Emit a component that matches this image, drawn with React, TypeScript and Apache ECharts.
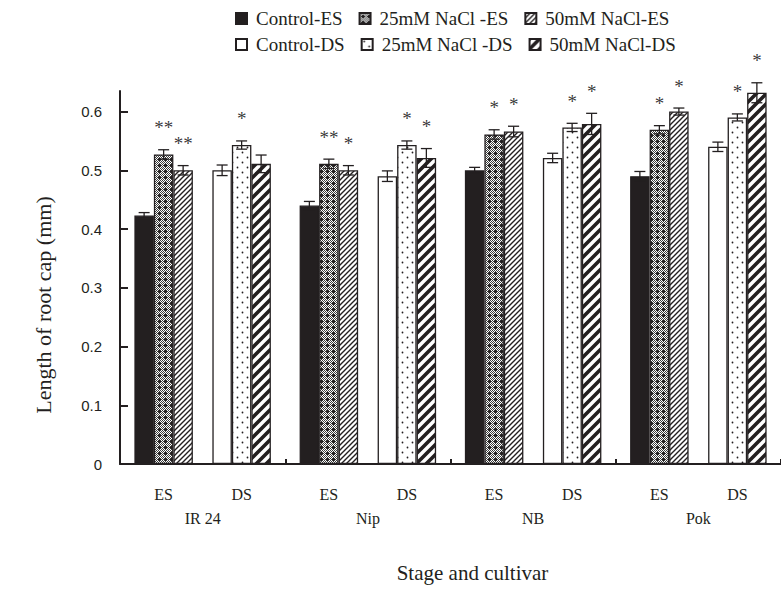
import React, { useEffect, useRef } from "react";
import * as echarts from "echarts";

const CULTIVARS = ["IR 24", "Nip", "NB", "Pok"];
const STAGE_LABELS = ["ES", "DS"];
const TREATMENTS = [
  "Control-ES",
  "25mM NaCl -ES",
  "50mM NaCl-ES",
  "Control-DS",
  "25mM NaCl -DS",
  "50mM NaCl-DS",
];
const Y_TICKS = [0, 0.1, 0.2, 0.3, 0.4, 0.5, 0.6];

// mean values (mm)
const controlES = [0.423, 0.44, 0.5, 0.49];
const nacl25ES = [0.527, 0.511, 0.561, 0.569];
const nacl50ES = [0.5, 0.5, 0.566, 0.6];
const controlDS = [0.5, 0.49, 0.521, 0.54];
const nacl25DS = [0.543, 0.543, 0.573, 0.59];
const nacl50DS = [0.511, 0.521, 0.579, 0.632];

// standard errors
const errControlES = [0.005, 0.007, 0.005, 0.008];
const err25ES = [0.008, 0.008, 0.008, 0.007];
const err50ES = [0.008, 0.008, 0.009, 0.006];
const errControlDS = [0.009, 0.009, 0.008, 0.008];
const err25DS = [0.007, 0.007, 0.007, 0.006];
const err50DS = [0.015, 0.016, 0.018, 0.017];

// significance marks
const sigControlES = ["", "", "", ""];
const sig25ES = ["**", "**", "*", "*"];
const sig50ES = ["**", "*", "*", "*"];
const sigControlDS = ["", "", "", ""];
const sig25DS = ["*", "*", "*", "*"];
const sig50DS = ["", "*", "*", "*"];

const INK = "#231f20";
const BAR_W = 19.5;
const SERIF = "Liberation Serif, serif";
const SANS = "Liberation Sans, sans-serif";

function tile(w: number, h: number, draw: (ctx: CanvasRenderingContext2D) => void) {
  const c = document.createElement("canvas");
  c.width = w;
  c.height = h;
  const ctx = c.getContext("2d") as CanvasRenderingContext2D;
  ctx.fillStyle = "#ffffff";
  ctx.fillRect(0, 0, w, h);
  draw(ctx);
  return { image: c, repeat: "repeat" };
}

function diag(w: number, lw: number) {
  return tile(w, w, (ctx) => {
    ctx.strokeStyle = INK;
    ctx.lineWidth = lw;
    ctx.lineCap = "square";
    for (const o of [-w, 0, w]) {
      ctx.beginPath();
      ctx.moveTo(o, w);
      ctx.lineTo(o + w, 0);
      ctx.stroke();
    }
  });
}

function dense() {
  return tile(6, 6, (ctx) => {
    ctx.fillStyle = "#3a3a3a";
    for (let x = 0; x < 6; x++)
      for (let y = 0; y < 6; y++) if ((x + y) % 2 === 0) ctx.fillRect(x, y, 1, 1);
    ctx.fillStyle = INK;
    ctx.fillRect(2, 3, 3, 1);
    ctx.fillRect(3, 2, 1, 3);
  });
}

function dots() {
  return tile(10, 10, (ctx) => {
    ctx.fillStyle = INK;
    ctx.beginPath();
    ctx.arc(2.5, 2.5, 0.9, 0, Math.PI * 2);
    ctx.fill();
    ctx.beginPath();
    ctx.arc(7.5, 7.5, 0.9, 0, Math.PI * 2);
    ctx.fill();
  });
}

export default function App() {
  const ref = useRef<HTMLDivElement>(null);

  useEffect(() => {
    if (!ref.current) return;
    const chart = echarts.init(ref.current, undefined, { renderer: "svg" });

    const defs = [
      { name: TREATMENTS[0], data: controlES, err: errControlES, sig: sigControlES, fill: INK, slot: 0 },
      { name: TREATMENTS[1], data: nacl25ES, err: err25ES, sig: sig25ES, fill: dense(), slot: 1 },
      { name: TREATMENTS[2], data: nacl50ES, err: err50ES, sig: sig50ES, fill: diag(5, 1.4), slot: 2 },
      { name: TREATMENTS[3], data: controlDS, err: errControlDS, sig: sigControlDS, fill: "#ffffff", slot: 4 },
      { name: TREATMENTS[4], data: nacl25DS, err: err25DS, sig: sig25DS, fill: dots(), slot: 5 },
      { name: TREATMENTS[5], data: nacl50DS, err: err50DS, sig: sig50DS, fill: diag(10, 3.6), slot: 6 },
    ];

    const barSeries: any[] = [];
    defs.forEach((d, i) => {
      if (i === 3) {
        barSeries.push({
          type: "bar",
          name: "_gap",
          data: CULTIVARS.map(() => null),
          barWidth: BAR_W,
          silent: true,
        });
      }
      barSeries.push({
        type: "bar",
        name: d.name,
        data: d.data,
        barWidth: BAR_W,
        barGap: "0%",
        itemStyle: { color: d.fill as any, borderColor: INK, borderWidth: 1.3 },
      });
    });

    // significance asterisks: label above the top of each error bar
    const sigSeries = defs
      .filter((d) => d.sig.some((s) => s))
      .map((d) => ({
        type: "scatter",
        name: "_sig_" + d.name,
        silent: true,
        clip: false,
        z: 12,
        symbol: "circle",
        symbolSize: 1,
        itemStyle: { color: "rgba(0,0,0,0)" },
        data: d.data.map((v, i) => [i, v + d.err[i]]),
        label: {
          show: true,
          position: "top",
          distance: 12,
          offset: [(d.slot - 3) * BAR_W, 0],
          color: "#000000",
          fontFamily: SERIF,
          fontSize: 19,
          formatter: (p: any) => d.sig[p.dataIndex] || "",
        },
      }));

    const errItems: any[] = [];
    defs.forEach((d) => {
      d.data.forEach((v, i) => {
        errItems.push({ cat: i, slot: d.slot, val: v, err: d.err[i] });
      });
    });

    const errSeries = {
      type: "custom",
      name: "_err",
      z: 10,
      clip: false,
      silent: true,
      encode: { x: 0, y: 1 },
      data: errItems.map((it) => [it.cat, it.val + it.err]),
      renderItem: (params: any, api: any) => {
        const it = errItems[params.dataIndex];
        const c = api.coord([it.cat, it.val]);
        const x = c[0] + (it.slot - 3) * BAR_W;
        const yTop = api.coord([it.cat, it.val + it.err])[1];
        const yBot = api.coord([it.cat, it.val - it.err])[1];
        const st = { stroke: INK, lineWidth: 1.3, fill: "none" };
        return {
          type: "group",
          children: [
            { type: "line", shape: { x1: x, y1: yTop, x2: x, y2: yBot }, style: st },
            { type: "line", shape: { x1: x - 5.5, y1: yTop, x2: x + 5.5, y2: yTop }, style: st },
            { type: "line", shape: { x1: x - 5.5, y1: yBot, x2: x + 5.5, y2: yBot }, style: st },
          ],
        };
      },
    };

    const legendBase = {
      icon: "rect",
      itemWidth: 11,
      itemHeight: 11,
      itemGap: 16,
      left: 230,
      textStyle: { fontFamily: SERIF, fontSize: 19, color: INK, padding: [0, 0, 0, 4] },
      selectedMode: false,
    };

    chart.setOption({
      animation: false,
      textStyle: { fontFamily: SERIF, color: INK },
      legend: [
        { ...legendBase, top: 4, data: TREATMENTS.slice(0, 3) },
        { ...legendBase, top: 30, data: TREATMENTS.slice(3, 6) },
      ],
      grid: { left: 120, right: -5, top: 91, bottom: 125, containLabel: false },
      xAxis: {
        type: "category",
        data: CULTIVARS,
        boundaryGap: true,
        name: "Stage and cultivar",
        nameLocation: "middle",
        nameGap: 98,
        nameTextStyle: { fontFamily: SERIF, fontSize: 21, color: INK, padding: [0, 0, 0, 44] },
        axisLine: { show: true, lineStyle: { color: INK, width: 2 } },
        axisTick: { show: true, inside: true, length: 5, lineStyle: { color: INK, width: 2 } },
        axisLabel: {
          margin: 19,
          fontFamily: SERIF,
          color: INK,
          formatter: (v: string) =>
            `{s|${STAGE_LABELS[0]}}{g| }{s|${STAGE_LABELS[1]}}\n{c|${v}}`,
          rich: {
            s: { width: 30, align: "center", fontSize: 16, fontFamily: SERIF, color: INK, lineHeight: 22 },
            g: { width: 48, lineHeight: 22, fontSize: 16 },
            c: { align: "center", fontSize: 16, fontFamily: SERIF, color: INK, lineHeight: 26 },
          },
        },
        splitLine: { show: false },
      },
      yAxis: {
        type: "value",
        min: 0,
        max: 0.635,
        interval: 0.1,
        name: "Length of root cap (mm)",
        nameLocation: "middle",
        nameGap: 66,
        nameRotate: 90,
        nameTextStyle: { fontFamily: SERIF, fontSize: 22, color: INK, padding: [0, 55, 0, 0] },
        axisLine: { show: true, lineStyle: { color: INK, width: 2 } },
        axisTick: { show: true, inside: true, length: 8, lineStyle: { color: INK, width: 2 }, customValues: Y_TICKS },
        axisLabel: { customValues: Y_TICKS, margin: 18, fontFamily: SANS, fontSize: 15, color: INK },
        splitLine: { show: false },
      },
      series: [...barSeries, errSeries, ...sigSeries],
    });

    return () => chart.dispose();
  }, []);

  return (
    <div
      ref={ref}
      style={{ position: "fixed", left: 0, top: 0, width: 781, height: 589, background: "#ffffff" }}
    />
  );
}
